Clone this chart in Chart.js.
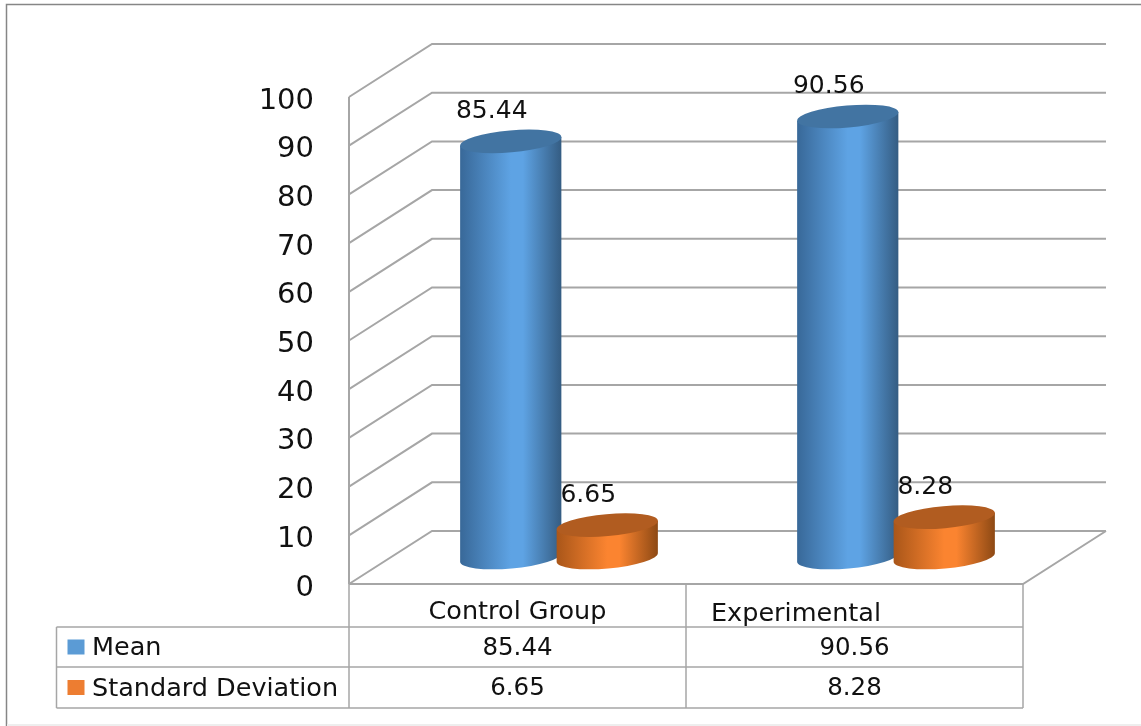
<!DOCTYPE html>
<html>
<head>
<meta charset="utf-8">
<title>Mean and Standard Deviation</title>
<script src="https://cdn.jsdelivr.net/npm/chart.js@4"></script>
<style>
    html, body { margin: 0; padding: 0; background: #ffffff; }
    canvas { display: block; }
</style>
</head>
<body>
<canvas id="chart" width="1141" height="726"></canvas>
<script>
// Chart data
const categories = ['Control Group', 'Experimental'];
const meanValues = [85.44, 90.56];
const sdValues = [6.65, 8.28];

const FONT = '"DejaVu Sans", sans-serif';
const TEXT_COLOR = '#111111';
const LINE_COLOR = '#a6a6a6';

// Box depth of the 3D floor, in pixels
const DEPTH_X = 83;
const DEPTH_Y = 53;
const TILT = 5 * Math.PI / 180;
const CAP_RY = 11;

// Shading for each cylinder: left, middle, right, cap
const shades = [
    { left: '#386898', mid: '#5ea3e4', right: '#345c82', cap: '#4274a2' },
    { left: '#a95619', mid: '#fb8430', right: '#8d4914', cap: '#b15c20' }
];

// Floor and back wall lines, one per y tick
function drawWalls(chart) {
    const { ctx, chartArea: area, scales: { y } } = chart;
    ctx.save();
    ctx.strokeStyle = LINE_COLOR;
    ctx.lineWidth = 2;
    ctx.beginPath();
    ctx.moveTo(area.left, area.top);
    ctx.lineTo(area.left, area.bottom);
    y.ticks.forEach(tick => {
        const py = y.getPixelForValue(tick.value);
        ctx.moveTo(area.left, py);
        ctx.lineTo(area.left + DEPTH_X, py - DEPTH_Y);
        ctx.lineTo(area.right + DEPTH_X, py - DEPTH_Y);
    });
    ctx.moveTo(area.left, area.bottom);
    ctx.lineTo(area.right, area.bottom);
    ctx.lineTo(area.right + DEPTH_X, area.bottom - DEPTH_Y);
    ctx.stroke();
    ctx.restore();
}

function drawCylinder(ctx, bar, shade) {
    // Bars stand halfway into the floor
    const cx = bar.x + DEPTH_X / 2;
    const rx = bar.width / 2;
    const topY = bar.y - DEPTH_Y / 2;
    const baseY = bar.base - DEPTH_Y / 2;
    const dx = rx * Math.cos(TILT);
    const dy = rx * Math.sin(TILT);

    const grad = ctx.createLinearGradient(cx - rx, 0, cx + rx, 0);
    grad.addColorStop(0, shade.left);
    grad.addColorStop(0.5, shade.mid);
    grad.addColorStop(0.62, shade.mid);
    grad.addColorStop(1, shade.right);

    ctx.beginPath();
    ctx.moveTo(cx - dx, topY + dy);
    ctx.lineTo(cx - dx, baseY + dy);
    ctx.ellipse(cx, baseY, rx, CAP_RY, -TILT, Math.PI, 0, true);
    ctx.lineTo(cx + dx, topY - dy);
    ctx.closePath();
    ctx.fillStyle = grad;
    ctx.fill();

    ctx.beginPath();
    ctx.ellipse(cx, topY, rx, CAP_RY, -TILT, 0, Math.PI * 2);
    ctx.fillStyle = shade.cap;
    ctx.fill();
}

function drawValueLabel(ctx, bar, value) {
    ctx.fillStyle = TEXT_COLOR;
    ctx.font = '25px ' + FONT;
    ctx.textAlign = 'center';
    ctx.textBaseline = 'middle';
    ctx.fillText(value.toFixed(2), bar.x + DEPTH_X / 2 - 19, bar.y - DEPTH_Y / 2 - 30);
}

// Data table under the plot, with the category names on its first row
function drawTable(chart) {
    const { ctx, chartArea: area, scales: { x } } = chart;
    const midX = (x.getPixelForValue(0) + x.getPixelForValue(1)) / 2;
    const tableLeft = 56.5;
    const rows = [627, 667, 708];
    const nameFont = '25.5px ' + FONT;
    const valueFont = '24.5px ' + FONT;

    ctx.save();
    ctx.strokeStyle = LINE_COLOR;
    ctx.lineWidth = 1.5;
    ctx.beginPath();
    [area.left, midX, area.right].forEach(px => {
        ctx.moveTo(px, area.bottom);
        ctx.lineTo(px, rows[2]);
    });
    ctx.moveTo(tableLeft, rows[0]);
    ctx.lineTo(tableLeft, rows[2]);
    rows.forEach(py => {
        ctx.moveTo(tableLeft, py);
        ctx.lineTo(area.right, py);
    });
    ctx.stroke();

    ctx.fillStyle = TEXT_COLOR;
    ctx.font = nameFont;
    ctx.textBaseline = 'middle';
    ctx.textAlign = 'center';
    ctx.fillText(categories[0], x.getPixelForValue(0), 612);
    ctx.textAlign = 'left';
    ctx.fillText(categories[1], 711, 614);

    chart.data.datasets.forEach((ds, i) => {
        const rowY = (rows[i] + rows[i + 1]) / 2;
        ctx.fillStyle = ds.backgroundColor;
        ctx.fillRect(67.5, rowY - 7.5, 17, 15);
        ctx.fillStyle = TEXT_COLOR;
        ctx.font = nameFont;
        ctx.textAlign = 'left';
        ctx.fillText(ds.label, 92, rowY + 1.5);
        ctx.font = valueFont;
        ctx.textAlign = 'center';
        ds.data.forEach((v, j) => {
            ctx.fillText(v.toFixed(2), x.getPixelForValue(j), rowY + 1.5);
        });
    });
    ctx.restore();
}

// Outer frame of the figure
function drawFrame(chart) {
    const { ctx, width, height } = chart;
    ctx.save();
    ctx.strokeStyle = '#868686';
    ctx.lineWidth = 1.5;
    ctx.beginPath();
    ctx.moveTo(6.5, height);
    ctx.lineTo(6.5, 4.5);
    ctx.lineTo(width, 4.5);
    ctx.stroke();
    ctx.fillStyle = '#eeeeee';
    ctx.fillRect(7, height - 2, width - 7, 2);
    ctx.restore();
}

const cylinderPlugin = {
    id: 'cylinders',
    beforeDatasetsDraw(chart) {
        drawFrame(chart);
        drawWalls(chart);
    },
    // flat bars are replaced by the cylinders below
    beforeDatasetDraw() {
        return false;
    },
    afterDatasetsDraw(chart) {
        const ctx = chart.ctx;
        ctx.save();
        chart.data.datasets.forEach((ds, i) => {
            chart.getDatasetMeta(i).data.forEach(bar => drawCylinder(ctx, bar, shades[i]));
        });
        chart.data.datasets.forEach((ds, i) => {
            chart.getDatasetMeta(i).data.forEach((bar, j) => drawValueLabel(ctx, bar, ds.data[j]));
        });
        ctx.restore();
        drawTable(chart);
    }
};

new Chart(document.getElementById('chart'), {
    type: 'bar',
    data: {
        labels: categories,
        datasets: [
            { label: 'Mean', data: meanValues, backgroundColor: '#5B9BD5' },
            { label: 'Standard Deviation', data: sdValues, backgroundColor: '#ED7D31' }
        ]
    },
    plugins: [cylinderPlugin],
    options: {
        responsive: false,
        animation: false,
        categoryPercentage: 0.5727,
        barPercentage: 1.053,
        layout: {
            padding: { left: 200, right: 118, top: 97, bottom: 142 }
        },
        plugins: {
            legend: { display: false },
            tooltip: { enabled: false }
        },
        scales: {
            x: { display: false },
            y: {
                min: 0,
                max: 100,
                afterFit(scale) {
                    scale.width = 149;
                },
                border: { display: false },
                grid: { display: false, drawTicks: false },
                ticks: {
                    stepSize: 10,
                    padding: 35,
                    labelOffset: 4,
                    color: TEXT_COLOR,
                    font: { family: FONT, size: 29 }
                }
            }
        }
    }
});
</script>
</body>
</html>
